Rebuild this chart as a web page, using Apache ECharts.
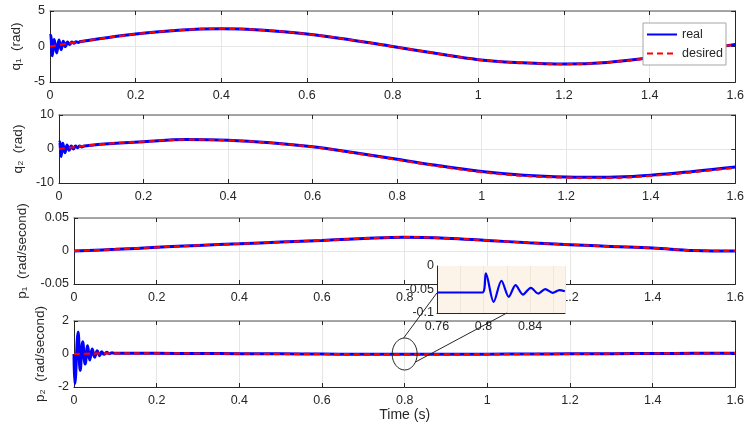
<!DOCTYPE html>
<html>
<head>
<meta charset="utf-8">
<script src="https://cdn.jsdelivr.net/npm/echarts@6/dist/echarts.min.js"></script>
<style>
  html, body { margin: 0; padding: 0; background: #fff; }
  #chart { width: 747px; height: 424px; }
</style>
</head>
<body>
<div id="chart"></div>
<script>
// time samples (s)
var t = [0, 0.1, 0.2, 0.3, 0.4, 0.5, 0.6, 0.7, 0.8, 0.9, 1.0, 1.1, 1.2, 1.3, 1.4, 1.5, 1.6];

// q1
var q1Desired = [0, 0.95, 1.75, 2.3, 2.5, 2.3, 1.75, 0.95, 0, -0.96, -1.85, -2.28, -2.47, -2.25, -1.6, -0.65, 0.3];
var q1OscT = [0, 0.0015, 0.0055, 0.010, 0.0155, 0.021, 0.026, 0.031, 0.036, 0.041, 0.046, 0.051, 0.056, 0.061, 0.066, 0.071, 0.08];
var q1OscV = [1.5, 1.6, -1.3, 1.0, -0.9, 0.9, -0.45, 0.75, -0.05, 0.62, 0.28, 0.62, 0.46, 0.66, 0.58, 0.7, 0.77];

// q2
var q2Desired = [0, 1.4, 2.15, 2.75, 2.55, 1.8, 0.6, -1.2, -3.15, -5.1, -6.8, -7.9, -8.4, -8.5, -7.9, -6.8, -5.5];
var q2Real = [0, 1.4, 2.15, 2.8, 2.6, 1.85, 0.65, -1.1, -3.0, -4.95, -6.6, -7.7, -8.2, -8.3, -7.7, -6.6, -5.3];
var q2OscT = [0, 0.0015, 0.005, 0.009, 0.014, 0.019, 0.024, 0.029, 0.034, 0.039, 0.044, 0.049, 0.054, 0.06, 0.07];
var q2OscV = [2.0, 2.1, -2.2, 1.7, -1.1, 1.2, -0.4, 0.9, 0.0, 0.85, 0.35, 0.85, 0.6, 0.9, 1.0];

// p1
var p1Values = [0, 0.0025, 0.0055, 0.0085, 0.011, 0.0135, 0.016, 0.019, 0.021, 0.0195, 0.016, 0.0125, 0.0096, 0.007, 0.0046, 0.0008, 0];

// p2
var p2Desired = [0, 0.04, 0.04, 0.03, 0.02, 0.01, 0, -0.02, -0.02, -0.02, -0.01, 0, 0.01, 0.02, 0.03, 0.04, 0.05];
var p2OscT = [0, 0.002, 0.01, 0.015, 0.021, 0.027, 0.033, 0.038, 0.044, 0.05, 0.056, 0.062, 0.067, 0.073, 0.079, 0.085, 0.092];
var p2OscV = [0, -1.8, 1.33, -1.0, 0.75, -0.6, 0.5, -0.37, 0.3, -0.2, 0.2, -0.1, 0.14, -0.02, 0.1, 0.02, 0.07];

// zoomed detail
var insetT = [0.76, 0.799, 0.802, 0.8087, 0.8154, 0.8217, 0.8275, 0.8339, 0.8406, 0.847, 0.853, 0.8594, 0.8652, 0.8699];
var insetV = [-0.0564, -0.0564, -0.0157, -0.0764, -0.0314, -0.0657, -0.0407, -0.0607, -0.0464, -0.0586, -0.0493, -0.0571, -0.0514, -0.0536];

// annotation: ellipse around (0.8, 0) on p2, links to the inset
var markT = 0.8, markV = 0;
var linkA = [0.76, -0.057];
var linkB = [0.82, -0.1];

function pairs(ts, vs) {
    return ts.map(function (x, i) { return [x, vs[i]]; });
}
function tail(ts, vs, from) {
    return pairs(ts, vs).filter(function (p) { return p[0] >= from; });
}

var FONT = "'Liberation Sans', Arial, sans-serif";
var DARK = '#262626';
var BLUE = '#0000ff';
var RED = '#ff0000';

var grids = [
    {left: 50, top: 11, right: 10, height: 71},
    {left: 59, top: 115, right: 10, height: 68},
    {left: 74, top: 218, right: 10, height: 66},
    {left: 74, top: 321, right: 10, height: 66},
    {left: 437, top: 266, width: 128, height: 47, show: true, backgroundColor: '#fcf4e8', borderWidth: 0, z: 5}
];

var yInfo = [
    {min: -5, max: 5, interval: 5, name: 'q\u2081  (rad)', gap: 27},
    {min: -10, max: 10, interval: 10, name: 'q\u2082  (rad)', gap: 34},
    {min: -0.05, max: 0.05, interval: 0.05, name: 'p\u2081  (rad/second)', gap: 44},
    {min: -2, max: 2, interval: 2, name: 'p\u2082  (rad/second)', gap: 26}
];

var xAxes = [], yAxes = [];
for (var i = 0; i < 4; i++) {
    xAxes.push({
        type: 'value', gridIndex: i, min: 0, max: 1.6, interval: 0.2,
        axisLine: {onZero: false, lineStyle: {color: DARK, width: 1}},
        axisTick: {inside: true, length: 4, lineStyle: {color: DARK}},
        axisLabel: {color: DARK, fontSize: 12.5, fontFamily: FONT, margin: 7},
        splitLine: {show: true, lineStyle: {color: '#e6e6e6'}},
        name: i === 3 ? 'Time (s)' : '',
        nameLocation: 'middle', nameGap: 15,
        nameTextStyle: {color: DARK, fontSize: 14, fontFamily: FONT}
    });
    xAxes.push({
        type: 'value', gridIndex: i, position: 'top', min: 0, max: 1.6, interval: 0.2,
        axisLine: {onZero: false, lineStyle: {color: '#8a8a8a', width: 1.5}},
        axisTick: {inside: true, length: 4, lineStyle: {color: DARK}},
        axisLabel: {show: false}, splitLine: {show: false}
    });
    yAxes.push({
        type: 'value', gridIndex: i, min: yInfo[i].min, max: yInfo[i].max, interval: yInfo[i].interval,
        axisLine: {show: true, onZero: false, lineStyle: {color: DARK, width: 1}},
        axisTick: {show: true, inside: true, length: 4, lineStyle: {color: DARK}},
        axisLabel: {color: DARK, fontSize: 12.5, fontFamily: FONT, margin: 5},
        splitLine: {show: true, lineStyle: {color: '#e6e6e6'}},
        name: yInfo[i].name, nameLocation: 'middle', nameGap: yInfo[i].gap,
        nameTextStyle: {color: DARK, fontSize: 13.5, fontFamily: FONT}
    });
    yAxes.push({
        type: 'value', gridIndex: i, position: 'right', min: yInfo[i].min, max: yInfo[i].max, interval: yInfo[i].interval,
        axisLine: {show: true, onZero: false, lineStyle: {color: DARK, width: 1}},
        axisTick: {show: true, inside: true, length: 4, lineStyle: {color: DARK}},
        axisLabel: {show: false}, splitLine: {show: false}
    });
}
// inset axes
xAxes.push({
    type: 'value', gridIndex: 4, min: 0.76, max: 0.87, interval: 0.02, z: 6,
    axisLine: {onZero: false, lineStyle: {color: DARK}},
    axisTick: {show: false},
    axisLabel: {
        color: DARK, fontSize: 12.5, fontFamily: FONT, margin: 7,
        formatter: function (v) {
            var k = Math.round(v * 100);
            return k % 4 === 0 && k <= 86 ? String(k / 100) : '';
        }
    },
    splitLine: {show: true, lineStyle: {color: '#efe7da'}}
});
yAxes.push({
    type: 'value', gridIndex: 4, min: -0.1, max: 0, interval: 0.05, z: 6,
    axisLine: {show: true, onZero: false, lineStyle: {color: DARK}},
    axisTick: {show: false},
    axisLabel: {color: DARK, fontSize: 12.5, fontFamily: FONT, margin: 3},
    splitLine: {show: false}
});

function realLine(name, xi, data) {
    return {
        name: name, type: 'line', xAxisIndex: xi, yAxisIndex: xi, data: data,
        showSymbol: false, symbol: 'none', smooth: 0.4,
        lineStyle: {color: BLUE, width: 3}, itemStyle: {color: BLUE}
    };
}
function desiredLine(xi, data) {
    return {
        name: 'desired', type: 'line', xAxisIndex: xi, yAxisIndex: xi, data: data,
        showSymbol: false, symbol: 'none', smooth: 0.4, z: 3,
        lineStyle: {color: RED, width: 2.2, type: [6, 4]}, itemStyle: {color: RED}
    };
}

var series = [
    realLine('real', 0, pairs(q1OscT, q1OscV).concat(tail(t, q1Desired, 0.1))),
    desiredLine(0, pairs(t, q1Desired)),
    realLine('real', 2, pairs(q2OscT, q2OscV).concat(tail(t, q2Real, 0.1))),
    desiredLine(2, pairs(t, q2Desired)),
    realLine('real', 4, pairs(t, p1Values)),
    desiredLine(4, pairs(t, p1Values)),
    realLine('real', 6, pairs(p2OscT, p2OscV).concat(tail(t, p2Desired, 0.1))),
    desiredLine(6, pairs(t, p2Desired))
];
var inset = realLine('real', 8, pairs(insetT, insetV));
inset.smooth = 0.3;
inset.lineStyle = {color: BLUE, width: 2.2};
inset.z = 7;
series.push(inset);

var chart = echarts.init(document.getElementById('chart'), null, {renderer: 'canvas'});
chart.setOption({
    animation: false,
    backgroundColor: '#fff',
    textStyle: {fontFamily: FONT},
    grid: grids,
    xAxis: xAxes,
    yAxis: yAxes,
    legend: {
        data: ['real', 'desired'],
        orient: 'vertical', left: 643, top: 23,
        itemWidth: 30, itemHeight: 14, itemGap: 6,
        padding: [5, 3, 5, 3],
        itemStyle: {opacity: 0},
        backgroundColor: '#fff', borderColor: '#a6a6a6', borderWidth: 1,
        textStyle: {color: DARK, fontSize: 12.5, fontFamily: FONT}
    },
    series: series
});

// ellipse and link lines placed through the axes
var c = chart.convertToPixel({gridIndex: 3}, [markT, markV]);
var a = chart.convertToPixel({gridIndex: 4}, linkA);
var b = chart.convertToPixel({gridIndex: 4}, linkB);
var rx = 12.5, ry = 16;
chart.setOption({
    graphic: [
        {type: 'ellipse', shape: {cx: c[0], cy: c[1], rx: rx, ry: ry},
         style: {fill: 'none', stroke: DARK, lineWidth: 1}, z: 10},
        {type: 'line', shape: {x1: a[0], y1: a[1], x2: c[0] - 1, y2: c[1] - ry},
         style: {stroke: DARK, lineWidth: 1}, z: 10},
        {type: 'line', shape: {x1: b[0], y1: b[1], x2: c[0] + rx * 0.866, y2: c[1] + ry * 0.5},
         style: {stroke: DARK, lineWidth: 1}, z: 10}
    ]
});
</script>
</body>
</html>
